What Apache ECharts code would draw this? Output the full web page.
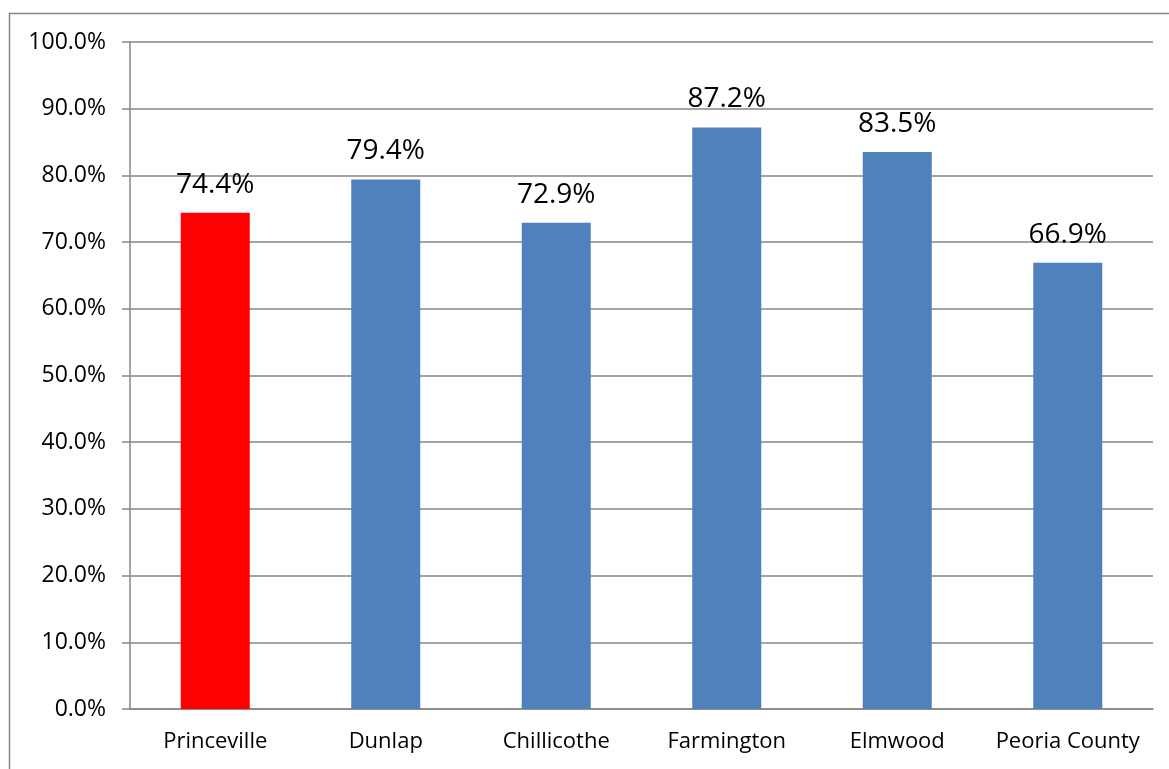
<!DOCTYPE html>
<html>
<head>
<meta charset="utf-8">
<script src="https://cdn.jsdelivr.net/npm/echarts@6/dist/echarts.min.js"></script>
<style>
html, body { margin: 0; padding: 0; background: #fff; }
#myChart { width: 1169px; height: 769px; }
</style>
</head>
<body>
<div id="myChart"></div>
<script>
// data
let categories = ['Princeville', 'Dunlap', 'Chillicothe', 'Farmington', 'Elmwood', 'Peoria County']
let values = [74.4, 79.4, 72.9, 87.2, 83.5, 66.9]
let barColors = ['#ff0000', '#4f81bd', '#4f81bd', '#4f81bd', '#4f81bd', '#4f81bd']

let myChart = echarts.init(document.getElementById('myChart'))
let font = '"Open Sans", sans-serif'

let option = {
    animation: false,
    textStyle: { fontFamily: font },
    graphic: [{
        type: 'rect',
        shape: { x: 9.5, y: 13.5, width: 1300, height: 900 },
        style: { fill: 'none', stroke: '#868686', lineWidth: 1.5 },
        silent: true
    }],
    grid: { left: 130, right: 16, top: 42, bottom: 60 },
    xAxis: {
        type: 'category',
        data: categories,
        axisLine: { lineStyle: { color: '#868686', width: 1.5 } },
        axisTick: { length: 7, lineStyle: { color: '#868686', width: 1.5 } },
        axisLabel: { color: '#000', fontSize: 22, fontFamily: font, margin: 22, interval: 0 }
    },
    yAxis: {
        type: 'value',
        min: 0,
        max: 100,
        interval: 10,
        axisLine: { show: true, lineStyle: { color: '#868686', width: 1.5 } },
        axisTick: { show: true, length: 8, lineStyle: { color: '#868686', width: 1.5 } },
        splitLine: { lineStyle: { color: '#868686', width: 1.5 } },
        axisLabel: {
            color: '#000', fontSize: 23, fontFamily: font, margin: 24,
            formatter: v => v.toFixed(1) + '%'
        }
    },
    series: [{
        type: 'bar',
        barWidth: 69,
        data: values.map((v, i) => ({ value: v, itemStyle: { color: barColors[i] } })),
        label: {
            show: true,
            position: 'top',
            distance: 14,
            color: '#000',
            fontSize: 28,
            fontFamily: font,
            formatter: p => p.value.toFixed(1) + '%'
        }
    }]
}
myChart.setOption(option)

window.addEventListener('resize', () => {
    myChart.resize()
})
</script>
</body>
</html>
